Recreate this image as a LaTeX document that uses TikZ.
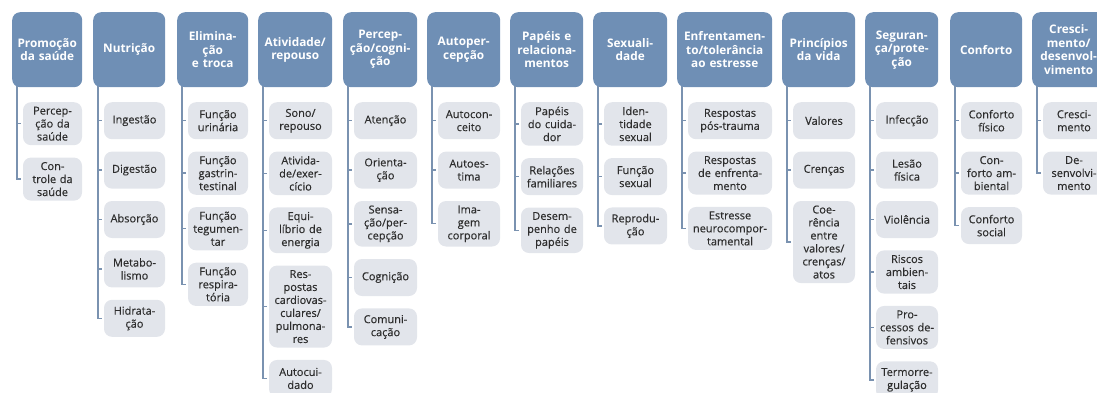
\documentclass[tikz,border=0pt]{standalone}
\usepackage{fontspec}
\setmainfont{Open Sans}
\newfontface\leafface{Open Sans}[FakeBold=0.35]
\usetikzlibrary{positioning}
\definecolor{hdblue}{RGB}{111,143,181}
\definecolor{leafgray}{RGB}{226,229,235}
\definecolor{branchblue}{RGB}{122,146,176}
\definecolor{leaftext}{RGB}{45,45,45}
\tikzset{
  head/.style={fill=hdblue, rounded corners=8pt, text=white, align=center, inner xsep=0pt, text width=#1, minimum height=75pt, anchor=north west, font=\fontsize{11.8}{13.5}\selectfont\bfseries},
  leaf/.style={fill=leafgray, rounded corners=8pt, text=leaftext, align=center, inner xsep=0pt, inner ysep=4.5pt, text width=#1, minimum height=37pt, font=\leafface\fontsize{11}{13}\selectfont},
  branch/.style={draw=branchblue, line width=1.4pt, shorten >=1.5pt},
}
\begin{document}
\begin{tikzpicture}[x=1pt,y=-1pt]
\useasboundingbox (0,0) rectangle (1097,392);
\clip (0,0) rectangle (1097,392);

\node[head=70pt] (h1) at (12,12) {Promoção\\da saúde};
\node[leaf=59pt, anchor=north] (n1a) at (52.5,102) {Percep-\\ção da\\saúde};
\node[leaf=59pt, below=12pt of n1a] (n1b) {Con-\\trole da\\saúde};

\node[head=72pt] (h2) at (93,12) {Nutrição};
\node[leaf=61pt, anchor=north] (n2a) at (134.5,102) {Ingestão};
\node[leaf=61pt, below=12pt of n2a] (n2b) {Digestão};
\node[leaf=61pt, below=12pt of n2b] (n2c) {Absorção};
\node[leaf=61pt, below=12pt of n2c] (n2d) {Metabo-\\lismo};
\node[leaf=61pt, below=12pt of n2d] (n2e) {Hidrata-\\ção};

\node[head=71pt] (h3) at (177,12) {Elimina-\\ção\\e troca};
\node[leaf=60pt, anchor=north] (n3a) at (218,102) {Função\\urinária};
\node[leaf=60pt, below=12pt of n3a] (n3b) {Função\\gastrin-\\testinal};
\node[leaf=60pt, below=12pt of n3b] (n3c) {Função\\tegumen-\\tar};
\node[leaf=60pt, below=12pt of n3c] (n3d) {Função\\respira-\\tória};

\node[head=74pt] (h4) at (258,12) {Atividade/\\repouso};
\node[leaf=63pt, anchor=north] (n4a) at (300.5,102) {Sono/\\repouso};
\node[leaf=63pt, below=12pt of n4a] (n4b) {Ativida-\\de/exer-\\cício};
\node[leaf=63pt, below=12pt of n4b] (n4c) {Equi-\\líbrio de\\energia};
\node[leaf=63pt, below=12pt of n4c] (n4d) {Res-\\postas\\cardiovas-\\culares/\\pulmona-\\res};
\node[leaf=63pt, below=12pt of n4d] (n4e) {Autocui-\\dado};

\node[head=74pt] (h5) at (343,12) {Percep-\\ção/cogni-\\ção};
\node[leaf=63pt, anchor=north] (n5a) at (385.5,102) {Atenção};
\node[leaf=63pt, below=12pt of n5a] (n5b) {Orienta-\\ção};
\node[leaf=63pt, below=12pt of n5b] (n5c) {Sensa-\\ção/per-\\cepção};
\node[leaf=63pt, below=12pt of n5c] (n5d) {Cognição};
\node[leaf=63pt, below=12pt of n5d] (n5e) {Comuni-\\cação};

\node[head=73pt] (h6) at (427,12) {Autoper-\\cepção};
\node[leaf=62pt, anchor=north] (n6a) at (469,102) {Autocon-\\ceito};
\node[leaf=62pt, below=12pt of n6a] (n6b) {Autoes-\\tima};
\node[leaf=62pt, below=12pt of n6b] (n6c) {Ima-\\gem\\corporal};

\node[head=73pt] (h7) at (510,12) {Papéis e\\relaciona-\\mentos};
\node[leaf=62pt, anchor=north] (n7a) at (552,102) {Papéis\\do cuida-\\dor};
\node[leaf=62pt, below=12pt of n7a] (n7b) {Relações\\familiares};
\node[leaf=62pt, below=12pt of n7b] (n7c) {Desem-\\penho de\\papéis};

\node[head=74pt] (h8) at (593,12) {Sexuali-\\dade};
\node[leaf=63pt, anchor=north] (n8a) at (635.5,102) {Iden-\\tidade\\sexual};
\node[leaf=63pt, below=12pt of n8a] (n8b) {Função\\sexual};
\node[leaf=63pt, below=12pt of n8b] (n8c) {Reprodu-\\ção};

\node[head=95pt] (h9) at (677,12) {Enfrentamen-\\to/tolerância\\ao estresse};
\node[leaf=84pt, anchor=north] (n9a) at (730,102) {Respostas\\pós-trauma};
\node[leaf=84pt, below=12pt of n9a] (n9b) {Respostas\\de enfrenta-\\mento};
\node[leaf=84pt, below=12pt of n9b] (n9c) {Estresse\\neurocompor-\\tamental};

\node[head=73pt] (h10) at (782,12) {Princípios\\da vida};
\node[leaf=62pt, anchor=north] (n10a) at (824,102) {Valores};
\node[leaf=62pt, below=12pt of n10a] (n10b) {Crenças};
\node[leaf=62pt, below=12pt of n10b] (n10c) {Coe-\\rência\\entre\\valores/\\crenças/\\atos};

\node[head=73pt] (h11) at (865,12) {Seguran-\\ça/prote-\\ção};
\node[leaf=62pt, anchor=north] (n11a) at (907,102) {Infecção};
\node[leaf=62pt, below=12pt of n11a] (n11b) {Lesão\\física};
\node[leaf=62pt, below=12pt of n11b] (n11c) {Violência};
\node[leaf=62pt, below=12pt of n11c] (n11d) {Riscos\\ambien-\\tais};
\node[leaf=62pt, below=12pt of n11d] (n11e) {Pro-\\cessos de-\\fensivos};
\node[leaf=62pt, below=12pt of n11e] (n11f) {Termorre-\\gulação};

\node[head=72pt] (h12) at (950,12) {Conforto};
\node[leaf=61pt, anchor=north] (n12a) at (991.5,102) {Conforto\\físico};
\node[leaf=61pt, below=12pt of n12a] (n12b) {Con-\\forto am-\\biental};
\node[leaf=61pt, below=12pt of n12b] (n12c) {Conforto\\social};

\node[head=73pt] (h13) at (1032,12) {Cresci-\\mento/\\desenvol-\\vimento};
\node[leaf=62pt, anchor=north] (n13a) at (1074,102) {Cresci-\\mento};
\node[leaf=62pt, below=12pt of n13a] (n13b) {De-\\senvolvi-\\mento};

\coordinate (t1) at (17,86);
\coordinate (t2) at (98,86);
\coordinate (t3) at (182,86);
\coordinate (t4) at (263,86);
\coordinate (t5) at (348,86);
\coordinate (t6) at (432,86);
\coordinate (t7) at (515,86);
\coordinate (t8) at (598,86);
\coordinate (t9) at (682,86);
\coordinate (t10) at (787,86);
\coordinate (t11) at (870,86);
\coordinate (t12) at (955,86);
\coordinate (t13) at (1037,86);

\foreach \c in {n1a,n1b} \draw[branch] (t1) |- (\c);
\foreach \c in {n2a,n2b,n2c,n2d,n2e} \draw[branch] (t2) |- (\c);
\foreach \c in {n3a,n3b,n3c,n3d} \draw[branch] (t3) |- (\c);
\foreach \c in {n4a,n4b,n4c,n4d,n4e} \draw[branch] (t4) |- (\c);
\foreach \c in {n5a,n5b,n5c,n5d,n5e} \draw[branch] (t5) |- (\c);
\foreach \c in {n6a,n6b,n6c} \draw[branch] (t6) |- (\c);
\foreach \c in {n7a,n7b,n7c} \draw[branch] (t7) |- (\c);
\foreach \c in {n8a,n8b,n8c} \draw[branch] (t8) |- (\c);
\foreach \c in {n9a,n9b,n9c} \draw[branch] (t9) |- (\c);
\foreach \c in {n10a,n10b,n10c} \draw[branch] (t10) |- (\c);
\foreach \c in {n11a,n11b,n11c,n11d,n11e,n11f} \draw[branch] (t11) |- (\c);
\foreach \c in {n12a,n12b,n12c} \draw[branch] (t12) |- (\c);
\foreach \c in {n13a,n13b} \draw[branch] (t13) |- (\c);
\end{tikzpicture}
\end{document}
